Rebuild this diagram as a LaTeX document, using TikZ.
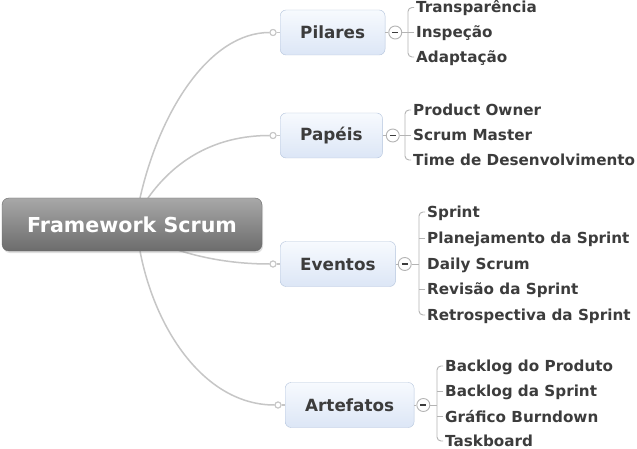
\documentclass[tikz,border=0pt]{standalone}
\usepackage{fontspec}
\setmainfont{DejaVu Sans}
\usetikzlibrary{shadows}
\definecolor{linec}{HTML}{C6C6C6}
\definecolor{brc}{HTML}{B4B4B4}
\definecolor{boxborder}{HTML}{B5C5DD}
\definecolor{boxtop}{HTML}{F7FAFE}
\definecolor{boxbot}{HTML}{DCE6F6}
\definecolor{txt}{HTML}{3C3C3C}
\definecolor{cenTop}{HTML}{A8A8A8}
\definecolor{cenBot}{HTML}{6C6C6C}
\definecolor{cenBorder}{HTML}{6A6A6A}
\begin{document}
\begin{tikzpicture}[x=1pt,y=-1pt,
  conn/.style={draw=linec, line width=1.5pt},
  br/.style={draw=brc, line width=0.9pt},
  central/.style={rounded corners=7pt, draw=cenBorder, top color=cenTop, bottom color=cenBot,
    minimum width=260pt, minimum height=53pt, text=white, inner sep=0pt,
    font=\fontsize{20.6}{24}\selectfont\bfseries,
    drop shadow={opacity=0.25, shadow xshift=1pt, shadow yshift=-2pt}},
  topic/.style={rounded corners=6pt, draw=boxborder, top color=boxtop, bottom color=boxbot,
    minimum height=45pt, inner xsep=20pt, anchor=west, text=txt,
    font=\fontsize{16.8}{20}\selectfont\bfseries},
  sub/.style={anchor=west, inner xsep=2pt, inner ysep=0pt, text height=11pt, text depth=0pt,
    text=txt, font=\fontsize{15.2}{18}\selectfont\bfseries},
  knob/.style={circle, draw=linec, fill=white, line width=1pt, minimum size=6pt, inner sep=0pt},
  toggle/.style={circle, draw=brc, fill=white, line width=0.9pt, minimum size=13pt, inner sep=0pt},
  minus/.style={draw=txt, line width=1.2pt},
]
\fill[white] (0,0) rectangle (637,449);
\useasboundingbox (0,0) rectangle (637,449);

% topic boxes
\node[topic] (pil) at (280,32.5) {Pilares};
\node[topic] (pap) at (280,135.5) {Papéis};
\node[topic] (eve) at (280,264) {Eventos};
\node[topic] (art) at (285,405) {Artefatos};

% knobs
\node[knob] (k1) at ([xshift=-7pt]pil.west) {};
\node[knob] (k2) at ([xshift=-7pt]pap.west) {};
\node[knob] (k3) at ([xshift=-7pt]eve.west) {};
\node[knob] (k4) at ([xshift=-7pt]art.west) {};

% curve start points
\path (132,224.5) coordinate (fwc);
\coordinate (s1) at (140,198);
\coordinate (s2) at (148,198);
\coordinate (s3) at (150,239.5);
\coordinate (s4) at (140,251);

% main curves (behind central node)
\draw[conn] (s1) .. controls (160,110) and (210,32.5) .. (k1.west);
\draw[conn] (s2) .. controls (175,160) and (215,135.5) .. (k2.west);
\draw[conn] (s3) .. controls (185,255) and (225,264) .. (k3.west);
\draw[conn] (s4) .. controls (155,330) and (205,405) .. (k4.west);
\draw[conn] (k1.east) -- (pil.west);
\draw[conn] (k2.east) -- (pap.west);
\draw[conn] (k3.east) -- (eve.west);
\draw[conn] (k4.east) -- (art.west);
\node[knob] at (k1) {};
\node[knob] at (k2) {};
\node[knob] at (k3) {};
\node[knob] at (k4) {};

\node[central] (fw) at (fwc) {Framework Scrum};

% toggles
\node[toggle] (t1) at ([xshift=10pt]pil.east) {};
\node[toggle] (t2) at ([xshift=10pt]pap.east) {};
\node[toggle] (t3) at ([xshift=9pt]eve.east) {};
\node[toggle] (t4) at ([xshift=9pt]art.east) {};
\foreach \t in {t1,t2,t3,t4}{
  \draw[minus] ([xshift=-3pt]\t.center) -- ([xshift=3pt]\t.center);
}
\draw[br] (pil.east) -- (t1.west);
\draw[br] (pap.east) -- (t2.west);
\draw[br] (eve.east) -- (t3.west);
\draw[br] (art.east) -- (t4.west);

% subtopics: Pilares
\node[sub] (p1) at (414,7.5) {Transparência};
\node[sub] (p2) at (414,32) {Inspeção};
\node[sub] (p3) at (414,57) {Adaptação};
\path ([xshift=-6pt]p1.west) coordinate (tmp1);
\coordinate (b1) at (tmp1 |- t1);
\draw[br] (t1.east) -- (b1);
\draw[br, rounded corners=4pt] (p1.west) -| (b1) |- (p3.west);
\draw[br] (p2.west) -- (p2.west -| b1);

% Papéis
\node[sub] (q1) at (411,110) {Product Owner};
\node[sub] (q2) at (411,135) {Scrum Master};
\node[sub] (q3) at (411,160) {Time de Desenvolvimento};
\path ([xshift=-6pt]q1.west) coordinate (tmp2);
\coordinate (b2) at (tmp2 |- t2);
\draw[br] (t2.east) -- (b2);
\draw[br, rounded corners=4pt] (q1.west) -| (b2) |- (q3.west);
\draw[br] (q2.west) -- (q2.west -| b2);

% Eventos
\node[sub] (e1) at (425,212) {Sprint};
\node[sub] (e2) at (425,238) {Planejamento da Sprint};
\node[sub] (e3) at (425,264) {Daily Scrum};
\node[sub] (e4) at (425,289) {Revisão da Sprint};
\node[sub] (e5) at (425,315) {Retrospectiva da Sprint};
\path ([xshift=-6pt]e1.west) coordinate (tmp3);
\coordinate (b3) at (tmp3 |- t3);
\draw[br] (t3.east) -- (b3);
\draw[br, rounded corners=4pt] (e1.west) -| (b3) |- (e5.west);
\draw[br] (e2.west) -- (e2.west -| b3);
\draw[br] (e4.west) -- (e4.west -| b3);

% Artefatos
\node[sub] (a1) at (443,366) {Backlog do Produto};
\node[sub] (a2) at (443,391) {Backlog da Sprint};
\node[sub] (a3) at (443,416.5) {Gráfico Burndown};
\node[sub] (a4) at (443,441) {Taskboard};
\path ([xshift=-6pt]a1.west) coordinate (tmp4);
\coordinate (b4) at (tmp4 |- t4);
\draw[br] (t4.east) -- (b4);
\draw[br, rounded corners=4pt] (a1.west) -| (b4) |- (a4.west);
\draw[br] (a2.west) -- (a2.west -| b4);
\draw[br] (a3.west) -- (a3.west -| b4);
\end{tikzpicture}
\end{document}
